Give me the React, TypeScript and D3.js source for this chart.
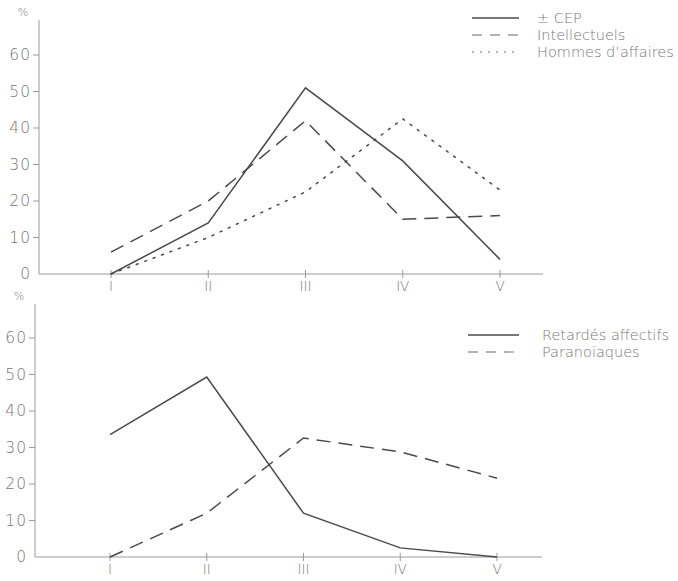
import React from "react";
import * as d3 from "d3";

const categories = ["I", "II", "III", "IV", "V"];
const yTicks = [0, 10, 20, 30, 40, 50, 60];

const cepValues = [0, 14, 51, 31, 4];
const intellValues = [6, 20, 42, 15, 16];
const hommesValues = [0, 10, 22.5, 42.5, 23];

const retardesValues = [33.5, 49.3, 12, 2.5, 0];
const paranoValues = [0, 12, 32.6, 28.8, 21.6];

const topNames = ["± CEP", "Intellectuels", "Hommes d\u2019affaires"];
const bottomNames = ["Retardés affectifs", "Paranoïaques"];

const DASH = { solid: "none", dashed: "14,8", dotted: "2,7" } as const;

type Series = { name: string; values: number[]; style: keyof typeof DASH };

const FONT = "'DejaVu Sans', sans-serif";
const TXT = "#777";
const AX = "#9a9a9a";
const LN = "#4a4a4a";

function Panel(props: {
  axisX: number;
  axisTop: number;
  zeroY: number;
  sixtyY: number;
  xFirst: number;
  xLast: number;
  axisEnd: number;
  series: Series[];
  legendX1: number;
  legendX2: number;
  legendTextX: number;
  legendY: number;
  legendStep: number;
}) {
  const p = props;
  const x = d3.scalePoint<string>().domain(categories).range([p.xFirst, p.xLast]);
  const y = d3.scaleLinear().domain([0, 60]).range([p.zeroY, p.sixtyY]);
  const line = d3
    .line<number>()
    .x((_, i) => x(categories[i]) as number)
    .y((d) => y(d));
  return (
    <g>
      <line x1={p.axisX} x2={p.axisX} y1={p.axisTop} y2={p.zeroY} stroke={AX} strokeWidth={1} />
      <line x1={p.axisX} x2={p.axisEnd} y1={p.zeroY} y2={p.zeroY} stroke={AX} strokeWidth={1} />
      <text x={p.axisX - 16} y={p.axisTop - 4} fontSize={11} fill={TXT} fontFamily={FONT} fontWeight={200} textAnchor="middle">
        %
      </text>
      {yTicks.map((t) => (
        <g key={t}>
          {t > 0 && <line x1={p.axisX - 6} x2={p.axisX} y1={y(t)} y2={y(t)} stroke={AX} />}
          <text
            x={p.axisX - 8}
            y={y(t)}
            dy="0.35em"
            fontSize={15.5}
            letterSpacing={1}
            fill={TXT}
            fontFamily={FONT}
            fontWeight={200}
            textAnchor="end"
          >
            {t}
          </text>
        </g>
      ))}
      {categories.map((c) => (
        <g key={c}>
          <line x1={x(c)} x2={x(c)} y1={p.zeroY - 4} y2={p.zeroY + 4} stroke={AX} />
          <text
            x={x(c)}
            y={p.zeroY + 17}
            fontSize={13.5}
            fill={TXT}
            fontFamily={FONT}
            fontWeight={200}
            textAnchor="middle"
          >
            {c}
          </text>
        </g>
      ))}
      {p.series.map((s) => (
        <path
          key={s.name}
          d={line(s.values) as string}
          fill="none"
          stroke={LN}
          strokeWidth={1.5}
          strokeDasharray={DASH[s.style]}
          strokeLinecap={s.style === "dotted" ? "round" : "butt"}
        />
      ))}
      {p.series.map((s, i) => (
        <g key={"lg" + s.name}>
          <line
            x1={p.legendX1}
            x2={p.legendX2}
            y1={p.legendY + i * p.legendStep}
            y2={p.legendY + i * p.legendStep}
            stroke={s.style === "solid" ? LN : "#999"}
            strokeWidth={1.3}
            strokeDasharray={s.style === "dashed" ? "10,8" : s.style === "dotted" ? "2,6" : "none"}
          />
          <text
            x={p.legendTextX}
            y={p.legendY + i * p.legendStep}
            dy="0.35em"
            fontSize={14.5}
            fill={TXT}
            fontFamily={FONT}
            fontWeight={200}
          >
            {s.name}
          </text>
        </g>
      ))}
    </g>
  );
}

export default function App() {
  const topSeries: Series[] = [
    { name: topNames[0], values: cepValues, style: "solid" },
    { name: topNames[1], values: intellValues, style: "dashed" },
    { name: topNames[2], values: hommesValues, style: "dotted" },
  ];
  const bottomSeries: Series[] = [
    { name: bottomNames[0], values: retardesValues, style: "solid" },
    { name: bottomNames[1], values: paranoValues, style: "dashed" },
  ];
  return (
    <svg
      width={678}
      height={581}
      style={{ position: "absolute", left: 0, top: 0, background: "#fff" }}
    >
      <Panel
        axisX={39}
        axisTop={20}
        zeroY={274}
        sixtyY={55}
        xFirst={111}
        xLast={500}
        axisEnd={543}
        series={topSeries}
        legendX1={472}
        legendX2={519}
        legendTextX={537}
        legendY={18}
        legendStep={17}
      />
      <Panel
        axisX={35}
        axisTop={304}
        zeroY={557}
        sixtyY={338}
        xFirst={110}
        xLast={497}
        axisEnd={542}
        series={bottomSeries}
        legendX1={468}
        legendX2={519}
        legendTextX={542}
        legendY={335}
        legendStep={17}
      />
    </svg>
  );
}
